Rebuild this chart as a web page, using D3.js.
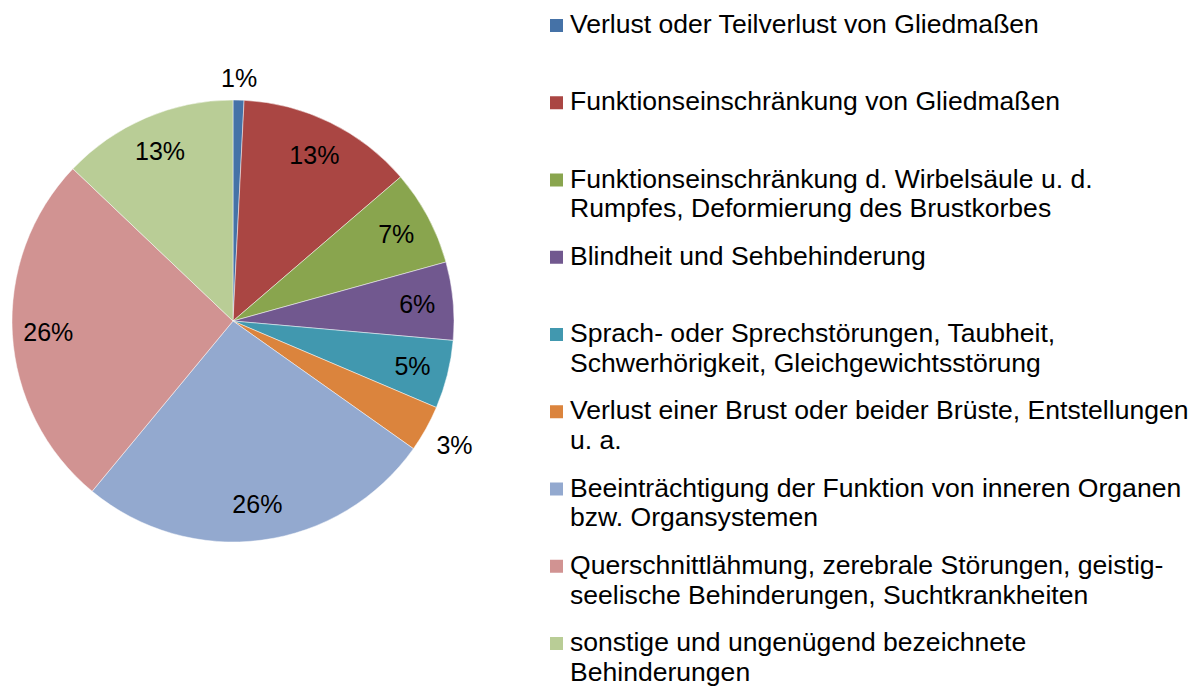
<!DOCTYPE html>
<html>
<head>
<meta charset="utf-8">
<script src="https://cdn.jsdelivr.net/npm/d3@7"></script>
<style>
    body { margin: 0; background: #fff; }
    text { font-family: "Liberation Sans", Arial, sans-serif; fill: #000; }
</style>
</head>
<body>
<div id="chart"></div>
<script>
// categories (legend text, one entry per line of the legend)
var categories = [
    ["Verlust oder Teilverlust von Gliedmaßen"],
    ["Funktionseinschränkung von Gliedmaßen"],
    ["Funktionseinschränkung d. Wirbelsäule u. d.", "Rumpfes, Deformierung des Brustkorbes"],
    ["Blindheit und Sehbehinderung"],
    ["Sprach- oder Sprechstörungen, Taubheit,", "Schwerhörigkeit, Gleichgewichtsstörung"],
    ["Verlust einer Brust oder beider Brüste, Entstellungen", "u. a."],
    ["Beeinträchtigung der Funktion von inneren Organen", "bzw. Organsystemen"],
    ["Querschnittlähmung, zerebrale Störungen, geistig-", "seelische Behinderungen, Suchtkrankheiten"],
    ["sonstige und ungenügend bezeichnete", "Behinderungen"]
];
// share in percent
var shares = [0.8, 12.9, 7.0, 5.7, 5.0, 3.4, 26.2, 26.1, 12.9];
// labels shown on the slices
var shareLabels = ["1%", "13%", "7%", "6%", "5%", "3%", "26%", "26%", "13%"];
var colors = ["#4572A7", "#AA4643", "#89A54E", "#71588F", "#4198AF", "#DB843D", "#93A9CF", "#D19392", "#B9CD96"];

function init(){
    var w = 1193;
    var h = 686;
    var cx = 233, cy = 321; // pie centre
    var r = 221; // pie radius
    var labelR = 185; // radius of labels inside
    var fontSize = 25;

    var dataset = shares.map(function(v, i){
        return {name: categories[i], value: v, label: shareLabels[i], color: colors[i]};
    });

    var svg = d3.select("#chart")
                .append("svg")
                .attr("width", w)
                .attr("height", h);

    var pie = d3.pie()
                .sort(null)
                .value(function(d) { return d.value; });

    var arc = d3.arc().innerRadius(0).outerRadius(r);

    var arcs = pie(dataset);

    var g = svg.append("g")
               .attr("transform", `translate(${cx},${cy})`);

    g.selectAll("path")
        .data(arcs)
        .enter()
        .append("path")
        .attr("d", arc)
        .attr("fill", function(d) { return d.data.color; })
        .attr("stroke", "#fff")
        .attr("stroke-opacity", 0.6)
        .attr("stroke-width", 0.8);

    // labels: inside for big slices, outside for the small ones
    g.selectAll("text.pct")
        .data(arcs)
        .enter()
        .append("text")
        .attr("class", "pct")
        .attr("font-size", fontSize)
        .attr("text-anchor", "middle")
        .attr("dominant-baseline", "central")
        .text(function(d) { return d.data.label; })
        .attr("transform", function(d){
            var a = (d.startAngle + d.endAngle) / 2;
            var s = Math.sin(a), c = Math.cos(a);
            var rr = labelR;
            if (d.data.value < 4) {
                var bw = this.getBBox().width / 2, bh = 10;
                rr = r + 12 + Math.abs(s) * bw + Math.abs(c) * bh;
            }
            return `translate(${rr * s},${-rr * c})`;
        });

    // legend
    var legendY = d3.scalePoint()
                    .domain(d3.range(dataset.length))
                    .range([33, 651]);
    var lineH = 30;

    var items = svg.selectAll("g.legend")
        .data(dataset)
        .enter()
        .append("g")
        .attr("class", "legend")
        .attr("transform", function(d, i) { return `translate(550,${legendY(i)})`; });

    items.append("rect")
        .attr("x", 0)
        .attr("y", -14)
        .attr("width", 13)
        .attr("height", 13)
        .attr("fill", function(d) { return d.color; });

    // legend text is a bit wider than plain Arial in the original
    items.append("text")
        .attr("font-size", fontSize)
        .attr("transform", "translate(20,0) scale(1.063,1)")
        .selectAll("tspan")
        .data(function(d) { return d.name; })
        .enter()
        .append("tspan")
        .attr("x", 0)
        .attr("y", function(d, j) { return j * lineH; })
        .text(function(d) { return d; });
}
window.onload = init;
</script>
</body>
</html>
